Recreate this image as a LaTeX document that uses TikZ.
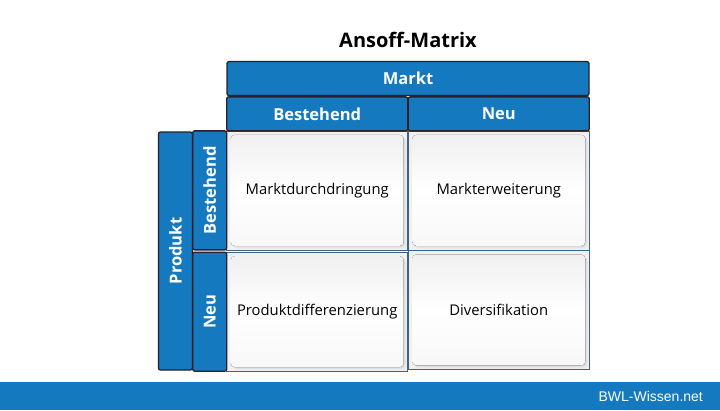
\documentclass[tikz,border=0pt]{standalone}
\usepackage{fontspec}
\setmainfont{Open Sans}
\newfontfamily\sitefont{Liberation Sans}
\usetikzlibrary{matrix,positioning,backgrounds}
\definecolor{ansoffblue}{HTML}{1479BF}
\definecolor{framedark}{HTML}{2A1F2A}
\definecolor{cellline}{HTML}{3C6286}
\newcommand*\cellwd{181pt}
\newcommand*\cellht{119pt}
\newcommand*\barht {34pt}
\tikzset{
    cell/.style   = {draw=cellline, line width=0.6pt,
                    minimum width=\cellwd, minimum height=\cellht,
                    inner sep=0pt, outer sep=0pt,
                    font=\fontsize{14.8}{18}\selectfont},
    headbar/.style = {draw=framedark, line width=1.3pt, fill=ansoffblue,
                    rounded corners=2pt, text=white,
                    minimum width=\cellwd, minimum height=\barht,
                    inner sep=0pt, outer sep=0pt,
                    font=\bfseries\fontsize{16.5}{20}\selectfont},
    tile/.style = {rounded corners=4pt, top color=black!6, bottom color=black!3, middle color=white},
    cellgrid/.style = {
        matrix of nodes,
        nodes   = {cell},
        inner sep=0pt, outer sep=0pt,
        column sep=0pt, row sep=0pt,
    },
  }
\begin{document}
\begin{tikzpicture}[x=1pt,y=-1pt]
        \useasboundingbox (0,0) rectangle (720,410);

        % Title
        \node[font=\bfseries\fontsize{20}{24}\selectfont] (title) at (408,40) {Ansoff-Matrix};

        % The 2x2 matrix of strategies, named "M"
        \matrix (M) [cellgrid] at (408,251) {
        % row 1
        Marktdurchdringung & Markterweiterung \\
        % row 2
        Produktdifferenzierung & Diversifikation \\
        };

        % Raised white tile in every cell, behind the text
        \begin{scope}[on background layer]
            \foreach \r in {1,2} {
                \foreach \c in {1,2} {
                    \fill[black!6] (M-\r-\c.south west) rectangle (M-\r-\c.north east);
                    \foreach \s/\g in {3/8,2/11,1/15} {
                        \fill[black!\g, rounded corners=4pt]
                            ([shift={(4pt+\s pt,4pt-\s pt)}]M-\r-\c.south west)
                            rectangle ([shift={(-4pt+\s pt,-4pt-\s pt)}]M-\r-\c.north east);
                    }
                    \fill[tile]
                        ([shift={(4pt,4pt)}]M-\r-\c.south west)
                        rectangle ([shift={(-4pt,-4pt)}]M-\r-\c.north east);
                }
            }
        \end{scope}

        % Market header: one wide bar plus one bar per column
        \node[headbar, minimum width=2*\cellwd, anchor=south] (markt) at ([yshift=\barht+1pt]M.north) {Markt};
        \foreach \c/\t [count=\i from 1] in {best/Bestehend,neu/Neu} {
            \node[headbar, anchor=south] (col-\c) at (M-1-\i.north) {\t};
        }

        % Product header: rotated bars LEFT of the west side
        \foreach \c/\t [count=\j from 1] in {best/Bestehend,neu/Neu} {
            \node[headbar, rotate=90, minimum width=\cellht, anchor=south] (row-\c) at (M-\j-1.west) {\t};
        }
        \node[headbar, rotate=90, minimum width=2*\cellht, anchor=south] (produkt) at ([xshift=-\barht]M.west) {Produkt};

        % Footer band
        \node[fill=ansoffblue, minimum width=720pt, minimum height=28pt, inner sep=0pt, anchor=north west] (footer) at (0,382) {};
        \node[text=white, font=\sitefont\fontsize{14}{16}\selectfont, anchor=east] (site) at ([xshift=-14pt]footer.east) {BWL-Wissen.net};
    \end{tikzpicture}
\end{document}
